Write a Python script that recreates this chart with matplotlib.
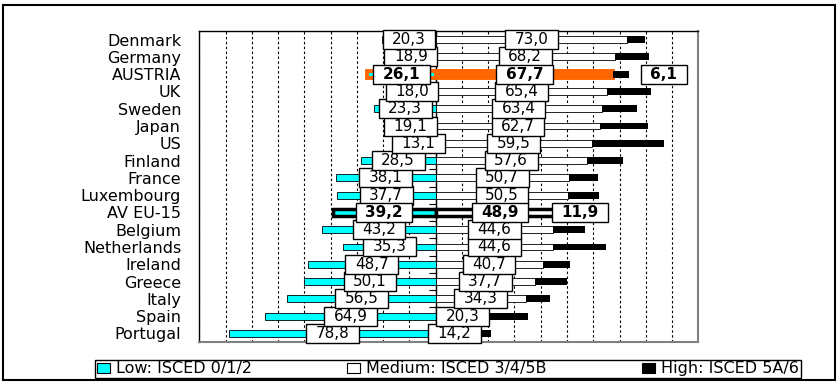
import numpy as np
import matplotlib
matplotlib.use("Agg")
import matplotlib.pyplot as plt
from matplotlib.patches import Patch, Rectangle
from matplotlib.path import Path

plt.rcParams['font.family'] = ['DejaVu Sans']

countries = ["Denmark", "Germany", "AUSTRIA", "UK", "Sweden", "Japan", "US",
             "Finland", "France", "Luxembourg", "AV EU-15", "Belgium",
             "Netherlands", "Ireland", "Greece", "Italy", "Spain", "Portugal"]
low = [20.3, 18.9, 26.1, 18.0, 23.3, 19.1, 13.1, 28.5, 38.1, 37.7, 39.2,
       43.2, 35.3, 48.7, 50.1, 56.5, 64.9, 78.8]
medium = [73.0, 68.2, 67.7, 65.4, 63.4, 62.7, 59.5, 57.6, 50.7, 50.5, 48.9,
          44.6, 44.6, 40.7, 37.7, 34.3, 20.3, 14.2]
high = [6.7, 12.9, 6.1, 16.6, 13.3, 18.2, 27.4, 13.9, 11.2, 11.8, 11.9,
        12.2, 20.1, 10.6, 12.2, 9.2, 14.8, 7.0]

CYAN = "#00FFFF"
ORANGE = "#FF6600"


def wide_box(x0, y0, width, height, mutation_size):
    # Excel-like label box: wide and flat
    px = 0.62 * mutation_size
    py = 0.13 * mutation_size
    x0, y0 = x0 - px, y0 - py
    x1, y1 = x0 + width + 2 * px, y0 + height + 2 * py
    return Path([(x0, y0), (x1, y0), (x1, y1), (x0, y1), (x0, y0)], closed=True)


def fmt(v):
    return f"{v:.1f}".replace(".", ",")


fig = plt.figure(figsize=(8.4, 3.89), dpi=100)
ax = fig.add_axes([199.3 / 840, 1 - 342 / 389, 499 / 840, 311 / 389])

y = np.arange(len(countries))
h = 0.4
for i in y:
    name = countries[i]
    if name == "AUSTRIA":
        ax.barh(i, -low[i], height=h, color=CYAN, edgecolor=ORANGE, lw=2.8, zorder=3)
        ax.barh(i, medium[i], height=h, color=ORANGE, edgecolor=ORANGE, lw=2.8, zorder=3)
        ax.barh(i, high[i], left=medium[i], height=h, color="black", zorder=3)
    elif name == "AV EU-15":
        ax.barh(i, -low[i], height=h, color=CYAN, edgecolor="black", lw=2.5, zorder=3)
        ax.barh(i, medium[i], height=h, color="white", edgecolor="black", lw=2.5, zorder=3)
        ax.barh(i, high[i], left=medium[i], height=h, color="black", zorder=3)
    else:
        ax.barh(i, -low[i], height=h, color=CYAN, edgecolor="black", lw=0.6, zorder=3)
        ax.barh(i, medium[i], height=h, color="white", edgecolor="black", lw=0.6, zorder=3)
        ax.barh(i, high[i], left=medium[i], height=h, color="black", zorder=3)

# value labels, bottom rows first so upper boxes sit on top
for i in y[::-1]:
    bold = countries[i] in ("AUSTRIA", "AV EU-15")
    z = 10 if bold else 5 + (len(countries) - i) * 0.01
    kw = dict(ha="center", va="center", fontsize=11,
              fontweight="bold" if bold else "normal", zorder=z,
              bbox=dict(boxstyle=wide_box, fc="white", ec="black", lw=1))
    ax.text(-low[i] / 2, i, fmt(low[i]), **kw)
    ax.text(medium[i] / 2, i, fmt(medium[i]), **kw)
    if countries[i] == "AUSTRIA":
        ax.text(medium[i] + high[i] + 13, i, fmt(high[i]), **kw)
    elif countries[i] == "AV EU-15":
        ax.text(medium[i] + high[i] / 2, i, fmt(high[i]), **kw)

ax.set_xlim(-90, 100)
ax.set_ylim(len(countries) - 0.5, -0.5)
ax.set_xticks(np.arange(-90, 101, 10))
ax.set_xticklabels([])
ax.tick_params(axis="x", length=0)
ax.grid(axis="x", color="black", lw=0.8, ls=(0, (2.2, 2.2)), zorder=1)
ax.set_yticks(y)
ax.set_yticklabels(countries, fontsize=11.5)
ax.tick_params(axis="y", length=0, pad=13)

for s in ("top", "left"):
    ax.spines[s].set_color("black")
    ax.spines[s].set_linewidth(1)
for s in ("bottom", "right"):
    ax.spines[s].set_color("#808080")
    ax.spines[s].set_linewidth(1.5)

# category axis crossing at zero
cax = ax.secondary_yaxis(90 / 190)
cax.set_yticks(np.arange(-0.5, len(countries), 1))
cax.set_yticklabels([])
cax.tick_params(axis="y", direction="out", length=5, width=0.8, color="black")
cax.spines["left"].set_color("black")
cax.spines["left"].set_linewidth(1)

handles = [Patch(fc=CYAN, ec="black", lw=0.8),
           Patch(fc="white", ec="black", lw=0.8),
           Patch(fc="black", ec="black", lw=0.8)]
labels = ["Low: ISCED 0/1/2", "Medium: ISCED 3/4/5B", "High: ISCED 5A/6"]
fig.legend(handles, labels, ncol=3, loc="center", mode="expand",
           bbox_to_anchor=(95 / 840, 1 - 379 / 389, 706 / 840, 20 / 389),
           borderaxespad=0, fontsize=11.5, handlelength=0.8, handleheight=0.6,
           handletextpad=0.4, borderpad=0.12, fancybox=False,
           edgecolor="black", framealpha=1).get_frame().set_linewidth(1)

fig.add_artist(Rectangle((3 / 840, 1 - 380 / 389), 832 / 840, 375 / 389,
                         transform=fig.transFigure, fill=False,
                         ec="black", lw=1.5))

fig.savefig("out.png", dpi=100)
